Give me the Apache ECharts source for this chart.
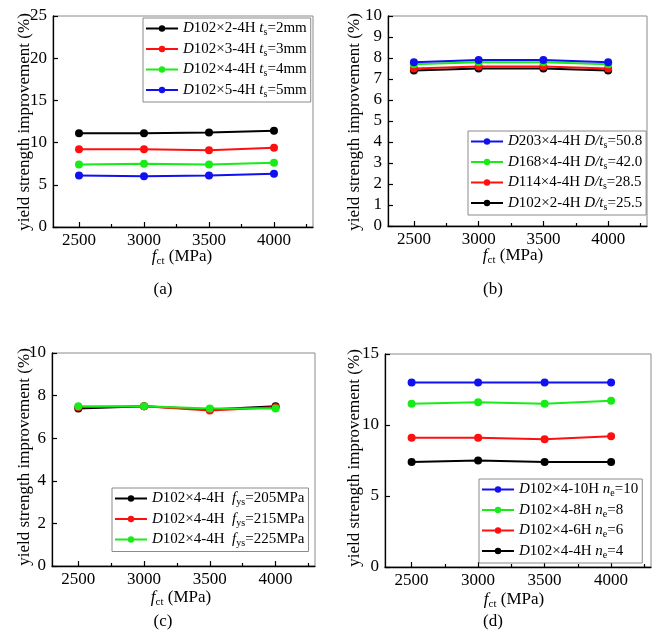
<!DOCTYPE html>
<html>
<head>
<meta charset="utf-8">
<script src="https://cdn.jsdelivr.net/npm/echarts@6/dist/echarts.min.js"></script>
<style>html,body{margin:0;padding:0;background:#fff;}#main{width:660px;height:641px;}</style>
</head>
<body>
<div id="main"></div>
<script>
// ---- data ----
const xValues = [2500, 3000, 3500, 4000];
const xMinorTicks = [2750, 3250, 3750, 4250];

// panel (a)
const aNames = ['D102×2-4H ts=2mm', 'D102×3-4H ts=3mm', 'D102×4-4H ts=4mm', 'D102×5-4H ts=5mm'];
const aLabels = ['{i|D}{r|102×2-4H }{i|t}{s|s}{r|=2mm}', '{i|D}{r|102×3-4H }{i|t}{s|s}{r|=3mm}', '{i|D}{r|102×4-4H }{i|t}{s|s}{r|=4mm}', '{i|D}{r|102×5-4H }{i|t}{s|s}{r|=5mm}'];
const aT2 = [11.1, 11.1, 11.2, 11.4];
const aT3 = [9.2, 9.2, 9.1, 9.4];
const aT4 = [7.4, 7.5, 7.4, 7.6];
const aT5 = [6.1, 6.0, 6.1, 6.3];

// panel (b)
const bNames = ['D203×4-4H D/ts=50.8', 'D168×4-4H D/ts=42.0', 'D114×4-4H D/ts=28.5', 'D102×2-4H D/ts=25.5'];
const bLabels = ['{i|D}{r|203×4-4H }{i|D/t}{s|s}{r|=50.8}', '{i|D}{r|168×4-4H }{i|D/t}{s|s}{r|=42.0}', '{i|D}{r|114×4-4H }{i|D/t}{s|s}{r|=28.5}', '{i|D}{r|102×2-4H }{i|D/t}{s|s}{r|=25.5}'];
const b508 = [7.8, 7.9, 7.9, 7.8];
const b420 = [7.7, 7.8, 7.8, 7.7];
const b285 = [7.5, 7.6, 7.6, 7.5];
const b255 = [7.4, 7.5, 7.5, 7.4];

// panel (c)
const cNames = ['D102×4-4H fys=205MPa', 'D102×4-4H fys=215MPa', 'D102×4-4H fys=225MPa'];
const cLabels = ['{i|D}{r|102×4-4H  }{i|f}{s|ys}{r|=205MPa}', '{i|D}{r|102×4-4H  }{i|f}{s|ys}{r|=215MPa}', '{i|D}{r|102×4-4H  }{i|f}{s|ys}{r|=225MPa}'];
const c205 = [7.4, 7.5, 7.35, 7.5];
const c215 = [7.45, 7.5, 7.3, 7.45];
const c225 = [7.5, 7.5, 7.4, 7.4];

// panel (d)
const dNames = ['D102×4-10H ne=10', 'D102×4-8H ne=8', 'D102×4-6H ne=6', 'D102×4-4H ne=4'];
const dLabels = ['{i|D}{r|102×4-10H }{i|n}{s|e}{r|=10}', '{i|D}{r|102×4-8H }{i|n}{s|e}{r|=8}', '{i|D}{r|102×4-6H }{i|n}{s|e}{r|=6}', '{i|D}{r|102×4-4H }{i|n}{s|e}{r|=4}'];
const d10 = [13.0, 13.0, 13.0, 13.0];
const d8 = [11.5, 11.6, 11.5, 11.7];
const d6 = [9.1, 9.1, 9.0, 9.2];
const d4 = [7.4, 7.5, 7.4, 7.4];

const panelTags = ['(a)', '(b)', '(c)', '(d)'];
const yTitle = '{r|yield strength improvement (%)}';
const xTitle = '{i|f}{s|ct}{r| (MPa)}';

// ---- styling ----
const FONT = '"Liberation Serif", "Times New Roman", serif';
const BLACK = '#000000', RED = '#ff1010', GREEN = '#18ec18', BLUE = '#1010f0';

const richLegend = {
  r: {fontFamily: FONT, fontSize: 15, color: '#000'},
  i: {fontFamily: FONT, fontStyle: 'italic', fontSize: 15, color: '#000'},
  s: {fontFamily: FONT, fontSize: 10, color: '#000', verticalAlign: 'bottom', lineHeight: 18, padding: [6, 0, 0, 0]}
};
const richAxis = {
  r: {fontFamily: FONT, fontSize: 17, fill: '#000'},
  i: {fontFamily: FONT, fontStyle: 'italic', fontSize: 17, fill: '#000'},
  s: {fontFamily: FONT, fontSize: 11, fill: '#000', verticalAlign: 'bottom', lineHeight: 20, padding: [7, 0, 0, 0]}
};

const grids = [
  {left: 53, top: 16, width: 260, height: 211},
  {left: 388, top: 16, width: 259, height: 210},
  {left: 52, top: 353, width: 263, height: 213},
  {left: 385, top: 354, width: 266, height: 213}
];
const yRanges = [[0, 25, 5], [0, 10, 1], [0, 10, 2], [0, 15, 5]];
const yTitlePos = [[25, 122], [355, 122], [25, 457], [355, 458]];
const xTitlePos = [[182, 257], [513, 256], [181, 598], [514, 600]];

const option = {
  backgroundColor: '#ffffff',
  animation: false,
  textStyle: {fontFamily: FONT},
  grid: grids.map(g => Object.assign({show: true, borderColor: '#8a8a8a', borderWidth: 1, backgroundColor: 'transparent'}, g)),
  xAxis: [],
  yAxis: [],
  legend: [],
  series: [],
  graphic: []
};

grids.forEach((g, gi) => {
  option.xAxis.push({
    type: 'value', gridIndex: gi, min: 2300, max: 4300,
    axisLine: {show: true, onZero: false, lineStyle: {color: '#000', width: 1.3}},
    axisTick: {show: true, inside: true, length: 5, customValues: xValues, lineStyle: {color: '#000', width: 1.2}},
    axisLabel: {show: true, customValues: xValues, margin: 5, fontFamily: FONT, fontSize: 17, color: '#000',
      formatter: v => String(v)},
    splitLine: {show: false}
  });
  option.xAxis.push({
    type: 'value', gridIndex: gi, min: 2300, max: 4300, position: 'bottom',
    axisLine: {show: false},
    axisTick: {show: true, inside: true, length: 3, customValues: xMinorTicks, lineStyle: {color: '#000', width: 1.2}},
    axisLabel: {show: false},
    splitLine: {show: false}
  });
  const r = yRanges[gi];
  option.yAxis.push({
    type: 'value', gridIndex: gi, min: r[0], max: r[1], interval: r[2],
    axisLine: {show: true, onZero: false, lineStyle: {color: '#000', width: 1.3}},
    axisTick: {show: true, inside: true, length: 5, lineStyle: {color: '#000', width: 1.2}},
    axisLabel: {show: true, margin: 6, fontFamily: FONT, fontSize: 17, color: '#000', formatter: v => String(v)},
    splitLine: {show: false}
  });
  option.graphic.push({
    type: 'text', x: yTitlePos[gi][0], y: yTitlePos[gi][1], rotation: Math.PI / 2,
    style: {text: yTitle, rich: richAxis, fontFamily: FONT, fontSize: 17, fill: '#000', align: 'center', verticalAlign: 'middle'}
  });
  option.graphic.push({
    type: 'text', x: xTitlePos[gi][0], y: xTitlePos[gi][1],
    style: {text: xTitle, rich: richAxis, fontFamily: FONT, fontSize: 17, fill: '#000', align: 'center', verticalAlign: 'middle'}
  });
});

function addSeries(gi, name, vals, color) {
  option.series.push({
    type: 'line', name: name, xAxisIndex: gi * 2, yAxisIndex: gi,
    data: xValues.map((x, i) => [x, vals[i]]),
    symbol: 'circle', symbolSize: 8, color: color,
    lineStyle: {color: color, width: 2},
    itemStyle: {color: color}
  });
}
addSeries(0, aNames[3], aT5, BLUE);
addSeries(0, aNames[2], aT4, GREEN);
addSeries(0, aNames[1], aT3, RED);
addSeries(0, aNames[0], aT2, BLACK);
addSeries(1, bNames[3], b255, BLACK);
addSeries(1, bNames[2], b285, RED);
addSeries(1, bNames[1], b420, GREEN);
addSeries(1, bNames[0], b508, BLUE);
addSeries(2, cNames[0], c205, BLACK);
addSeries(2, cNames[1], c215, RED);
addSeries(2, cNames[2], c225, GREEN);
addSeries(3, dNames[3], d4, BLACK);
addSeries(3, dNames[2], d6, RED);
addSeries(3, dNames[1], d8, GREEN);
addSeries(3, dNames[0], d10, BLUE);

function addLegend(names, labels, left, top) {
  option.legend.push({
    data: names, left: left, top: top, orient: 'vertical',
    itemWidth: 32, itemHeight: 8, itemGap: 4,
    padding: [3, 4, 3, 2],
    borderColor: '#8a8a8a', borderWidth: 1, backgroundColor: '#ffffff',
    selectedMode: false,
    textStyle: {fontFamily: FONT, fontSize: 15, color: '#000', rich: richLegend},
    formatter: function (n) { return labels[names.indexOf(n)]; }
  });
}
addLegend(aNames, aLabels, 143, 18);
addLegend(bNames, bLabels, 468, 131);
addLegend(cNames, cLabels, 112, 488);
addLegend(dNames, dLabels, 479, 479);

const tagPos = [[163, 290], [493, 290], [163, 622], [493, 622]];
panelTags.forEach((t, i) => {
  option.graphic.push({
    type: 'text', x: tagPos[i][0], y: tagPos[i][1],
    style: {text: t, fontFamily: FONT, fontSize: 17, fill: '#000', align: 'center', verticalAlign: 'middle'}
  });
});

const chart = echarts.init(document.getElementById('main'), null, {renderer: 'canvas'});
chart.setOption(option);
</script>
</body>
</html>
